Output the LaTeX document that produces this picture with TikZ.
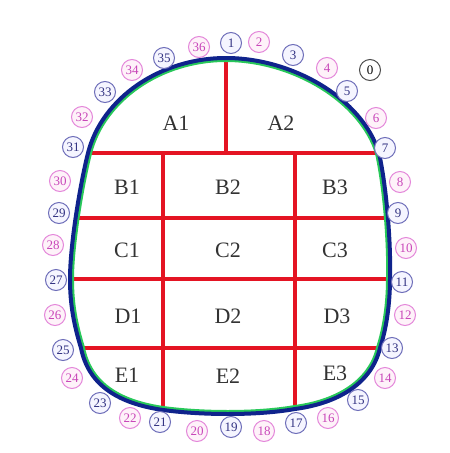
\documentclass[tikz,border=0pt]{standalone}
\usepackage{fontspec}
\setmainfont{Liberation Serif}
\usetikzlibrary{positioning}

\definecolor{rimblue}{RGB}{15,35,140}
\definecolor{rimgreen}{RGB}{40,200,90}
\definecolor{gridred}{RGB}{228,20,35}
\definecolor{pinkline}{RGB}{228,135,218}
\definecolor{pinktext}{RGB}{200,70,185}
\definecolor{blueline}{RGB}{110,110,185}
\definecolor{bluetext}{RGB}{50,50,130}

\newcommand{\headpath}{(p31) .. controls (102,98) and (160,58) .. (p1)
    .. controls (292,58) and (362,98) .. (p7)
    .. controls (387,190) and (391,245) .. (p11)
    .. controls (390,305) and (386,330) .. (p13)
    .. controls (372,382) and (340,403) .. (p17)
    .. controls (255,416) and (200,415) .. (p21)
    .. controls (115,403) and (88,383) .. (p25)
    .. controls (74,325) and (70,305) .. (p27)
    .. controls (70,245) and (80,185) .. (p31) -- cycle}

\begin{document}
\begin{tikzpicture}[
    x=1pt, y=-1pt,
    rim/.style={draw=rimblue, line width=4pt},
    redline/.style={draw=gridred, line width=4pt},
    cell/.style={font=\fontsize{22}{22}\selectfont, text=black!80},
    numbase/.style={circle, minimum size=21pt, inner sep=0pt, line width=1pt, font=\fontsize{13}{13}\selectfont},
    oddnum/.style={numbase, draw=blueline, fill=blue!4, text=bluetext},
    evennum/.style={numbase, draw=pinkline, fill=magenta!5, text=pinktext},
    zeronum/.style={numbase, draw=black!70, fill=white, text=black}
  ]
    \useasboundingbox[fill=white] (0,0) rectangle (450,453);

    % points on the rim
    \coordinate (p1) at (226,58);
    \coordinate (p7) at (379,153);
    \coordinate (p9) at (388,218);
    \coordinate (p11) at (390,279);
    \coordinate (p13) at (380,348);
    \coordinate (p17) at (295,409);
    \coordinate (p21) at (163,410);
    \coordinate (p25) at (81,348);
    \coordinate (p27) at (70,279);
    \coordinate (p29) at (75,218);
    \coordinate (p31) at (88,153);
    \coordinate (m1) at (163,153);
    \coordinate (m3) at (295,153);
    \coordinate (m2) at (226,153);

    % red grid
    \draw[redline] (p1) -- (m2);
    \draw[redline] (p31) -- (p7);
    \draw[redline] (p29) -- (p9);
    \draw[redline] (p27) -- (p11);
    \draw[redline] (p25) -- (p13);
    \draw[redline] (m1) -- (p21);
    \draw[redline] (m3) -- (p17);

    % rim
    \begin{scope}
      \clip \headpath;
      \draw[draw=rimgreen, line width=8pt] \headpath;
    \end{scope}
    \draw[rim] \headpath;

    % cells
    \node[cell] (a1) at (176,123) {A1};
    \node[cell] (a2) at (281,123) {A2};
    \node[cell] (b1) at (127,187) {B1};
    \node[cell] (b2) at (228,187) {B2};
    \node[cell] (b3) at (335,187) {B3};
    \node[cell] (c1) at (127,250) {C1};
    \node[cell] (c2) at (228,250) {C2};
    \node[cell] (c3) at (335,250) {C3};
    \node[cell] (d1) at (128,316) {D1};
    \node[cell] (d2) at (228,316) {D2};
    \node[cell] (d3) at (337,316) {D3};
    \node[cell] (e1) at (127,375) {E1};
    \node[cell] (e2) at (228,376) {E2};
    \node[cell] (e3) at (335,373) {E3};

    % numbered points
    \node[zeronum] (n0) at (370,70) {0};
    \node[oddnum] (n1) at (231,43) {1};
    \node[evennum] (n2) at (259,42) {2};
    \node[oddnum] (n3) at (293,55) {3};
    \node[evennum] (n4) at (327,68) {4};
    \node[oddnum] (n5) at (347,91) {5};
    \node[evennum] (n6) at (376,118) {6};
    \node[oddnum] (n7) at (385,148) {7};
    \node[evennum] (n8) at (400,182) {8};
    \node[oddnum] (n9) at (398,213) {9};
    \node[evennum] (n10) at (406,248) {10};
    \node[oddnum] (n11) at (402,282) {11};
    \node[evennum] (n12) at (405,315) {12};
    \node[oddnum] (n13) at (392,348) {13};
    \node[evennum] (n14) at (385,378) {14};
    \node[oddnum] (n15) at (358,400) {15};
    \node[evennum] (n16) at (328,418) {16};
    \node[oddnum] (n17) at (296,423) {17};
    \node[evennum] (n18) at (264,431) {18};
    \node[oddnum] (n19) at (231,427) {19};
    \node[evennum] (n20) at (197,431) {20};
    \node[oddnum] (n21) at (160,422) {21};
    \node[evennum] (n22) at (130,418) {22};
    \node[oddnum] (n23) at (100,403) {23};
    \node[evennum] (n24) at (72,378) {24};
    \node[oddnum] (n25) at (63,350) {25};
    \node[evennum] (n26) at (55,315) {26};
    \node[oddnum] (n27) at (56,280) {27};
    \node[evennum] (n28) at (53,245) {28};
    \node[oddnum] (n29) at (59,213) {29};
    \node[evennum] (n30) at (60,181) {30};
    \node[oddnum] (n31) at (73,147) {31};
    \node[evennum] (n32) at (82,117) {32};
    \node[oddnum] (n33) at (105,92) {33};
    \node[evennum] (n34) at (132,70) {34};
    \node[oddnum] (n35) at (164,58) {35};
    \node[evennum] (n36) at (199,47) {36};
\end{tikzpicture}
\end{document}
